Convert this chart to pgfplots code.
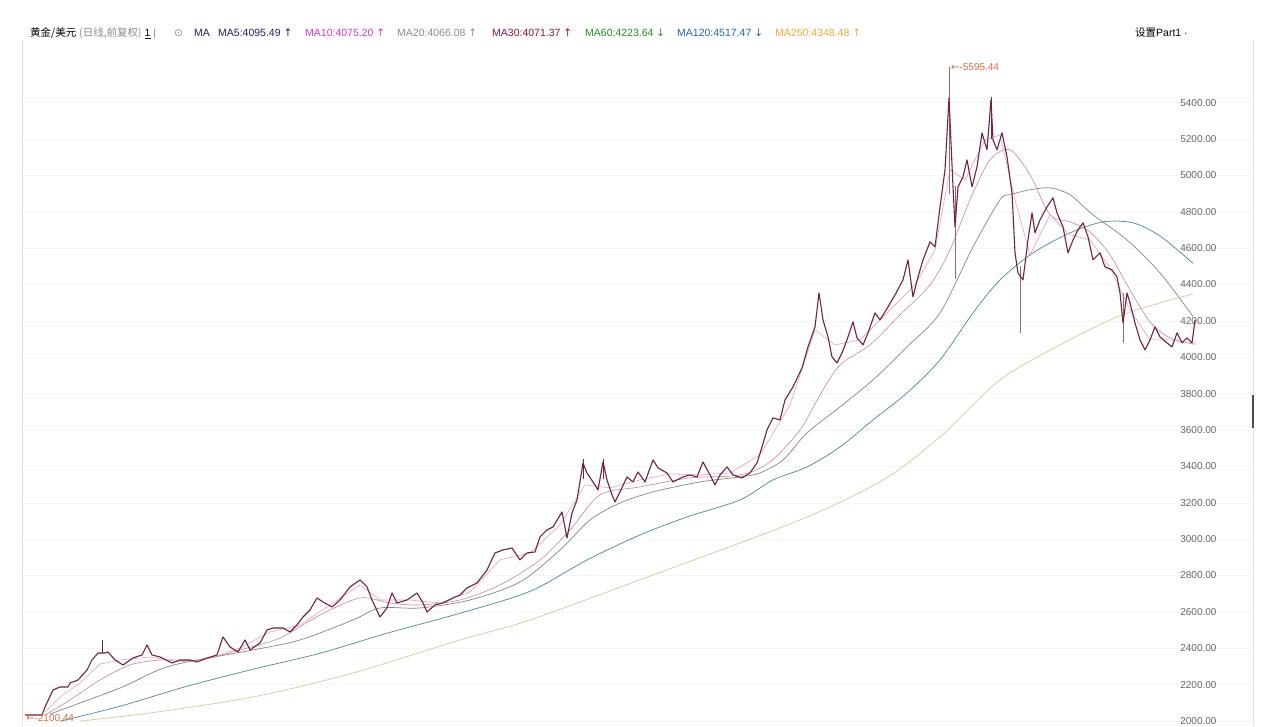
\documentclass[border=0pt]{standalone}
\usepackage{pgfplots}
\pgfplotsset{compat=1.18}
\usepackage{fontspec}
\setmainfont{Liberation Sans}
\newfontfamily\cjk{Noto Sans CJK SC}
\newfontfamily\dejavu{DejaVu Sans}
\definecolor{cNavy}{RGB}{30,30,110}
\definecolor{cMag}{RGB}{210,60,200}
\definecolor{cGrey}{RGB}{140,140,140}
\definecolor{cDred}{RGB}{140,20,50}
\definecolor{cGreen}{RGB}{40,140,40}
\definecolor{cBlue}{RGB}{40,100,180}
\definecolor{cOrange}{RGB}{235,170,60}
\definecolor{cPrice}{RGB}{115,35,55}
\definecolor{cMAten}{RGB}{228,160,215}
\definecolor{cMAthirty}{RGB}{205,135,150}
\definecolor{cMAsixty}{RGB}{125,140,125}
\definecolor{cMAonetwenty}{RGB}{75,135,155}
\definecolor{cMAtwofifty}{RGB}{222,205,160}
\definecolor{cPeak}{RGB}{225,110,70}
\begin{document}
\begin{tikzpicture}
\path[fill=white] (0,0) rectangle (1280pt,726pt);
\path[use as bounding box] (0,0) rectangle (1280pt,726pt);
\begin{axis}[
  at={(22pt,0pt)}, anchor=south west,
  scale only axis, width=1231pt, height=686pt,
  xmin=22, xmax=1253, ymin=1972.5, ymax=5744.6,
  axis line style={draw=none},
  xtick=\empty,
  ytick={2000,2200,...,5400},
  yticklabel pos=right,
  major tick length=0pt,
  ymajorgrids, grid style={black!4},
  yticklabel style={anchor=east, xshift=-33pt, font=\fontsize{10}{10}\selectfont, text=black!60},
  /pgf/number format/fixed, /pgf/number format/fixed zerofill,
  /pgf/number format/precision=2, /pgf/number format/1000 sep={},
  /pgf/number format/assume math mode=true,
]
% MA250
\addplot[color=cMAtwofifty, line width=0.8pt, smooth] coordinates {
(80,2000) (150,2044) (253,2132) (353,2264) (460,2445.5) (530,2555.5) (653,2803) (800,3105.5) (883,3325.5) (940,3562) (1000,3875.5) (1060,4068) (1117,4222) (1160,4299) (1193,4348)
};
% MA120
\addplot[color=cMAonetwenty, line width=0.7pt, smooth] coordinates {
(60,1999) (120,2081) (187,2191) (253,2284.5) (320,2372.5) (387,2482.5) (460,2592.5) (530,2713) (587,2885.5) (640,3023) (687,3122) (740,3215.5) (773,3325.5) (807,3397) (840,3507) (873,3655.5) (907,3804) (940,3985.5) (973,4244) (1000,4425.5) (1033,4574) (1070,4684) (1103,4744.5) (1133,4739) (1160,4667) (1193,4517)
};
% MA60
\addplot[color=cMAsixty, line width=0.7pt, smooth] coordinates {
(50,2038.5) (120,2181.5) (170,2302.5) (253,2390.5) (300,2445.5) (353,2555.5) (380,2621.5) (420,2621.5) (470,2665.5) (520,2764.5) (560,2940.5) (590,3105.5) (620,3199) (653,3259.5) (700,3314.5) (740,3342) (760,3364) (783,3435.5) (807,3584) (840,3727) (873,3875.5) (907,4057) (940,4244) (973,4607) (1000,4866) (1010,4893.5) (1030,4921) (1050,4931.5) (1070,4893.5) (1093,4783) (1127,4645.5) (1160,4464) (1193,4224)
};
% MA30
\addplot[color=cMAthirty, line width=0.6pt, smooth] coordinates {
(45,2033) (70,2115.5) (100,2225.5) (130,2308) (160,2335.5) (200,2335.5) (240,2390.5) (280,2456.5) (320,2583) (360,2676.5) (390,2649) (420,2638) (460,2665.5) (500,2748) (540,2885.5) (570,3050.5) (600,3243) (640,3287) (690,3336.5) (740,3353) (770,3424.5) (800,3600.5) (820,3793) (840,3958) (870,4068) (900,4233) (930,4398) (950,4590.5) (970,4866) (990,5085.5) (1010,5140.5) (1030,5003) (1050,4783) (1070,4744.5) (1090,4689.5) (1110,4563) (1130,4370.5) (1150,4194.5) (1170,4106.5) (1195,4071)
};
% MA10
\addplot[color=cMAten, line width=0.6pt] coordinates {
(45,2049.5) (60,2132) (80,2209) (100,2313.5) (120,2335.5) (150,2352) (180,2324.5) (210,2346.5) (240,2401.5) (270,2489.5) (300,2528) (330,2638) (360,2748) (380,2665.5) (410,2665.5) (440,2649) (470,2709.5) (500,2885.5) (530,2924) (560,3078) (585,3298) (610,3281.5) (640,3325.5) (670,3358.5) (700,3353) (730,3364) (760,3463) (790,3738) (815,4150.5) (835,4068) (860,4095.5) (890,4260.5) (915,4398) (935,4590.5) (950,5030.5) (965,4975.5) (985,5195.5) (1000,5223) (1015,4866) (1030,4563) (1050,4783) (1070,4673) (1090,4645.5) (1110,4491.5) (1130,4260.5) (1150,4095.5) (1170,4095.5) (1195,4075)
};
% wicks
\addplot[cPrice, line width=0.6pt] coordinates {(102,2374) (102,2445)};
\addplot[cPrice, line width=0.6pt] coordinates {(583,3330) (583,3440)};
\addplot[cPrice, line width=0.6pt] coordinates {(603,3330) (603,3440)};
\addplot[cPrice!70, line width=0.5pt] coordinates {(949,4900) (949,5595.44)};
\addplot[cPrice!70, line width=0.5pt] coordinates {(955,4430) (955,4940)};
\addplot[cPrice, line width=0.6pt] coordinates {(991,5200) (991,5430)};
\addplot[cPrice!70, line width=0.5pt] coordinates {(1020,4134) (1020,4500)};
\addplot[cPrice!70, line width=0.5pt] coordinates {(1123,4079) (1123,4354)};
% price (close)
\addplot[color=cPrice, line width=1.1pt, line join=round] coordinates {
(25,2033) (42,2033) (45,2077) (53,2170.5) (60,2187) (68,2187) (70,2209) (78,2225.5) (87,2280.5) (92,2335.5) (98,2374) (105,2374) (108,2379.5) (115,2335.5) (123,2308) (133,2346.5) (142,2363) (147,2418) (152,2363) (160,2352) (172,2319) (180,2335.5) (190,2335.5) (197,2324.5) (207,2346.5) (217,2363) (223,2462) (230,2407) (238,2379.5) (245,2445.5) (250,2390.5) (260,2429) (267,2500.5) (273,2511.5) (283,2511.5) (290,2489.5) (297,2528) (303,2572) (310,2610.5) (317,2676.5) (323,2654.5) (332,2627) (340,2665.5) (350,2737) (360,2775.5) (367,2737) (372,2665.5) (380,2572) (387,2621.5) (392,2704) (397,2649) (407,2665.5) (417,2704) (423,2649) (427,2599.5) (435,2638) (443,2649) (453,2676.5) (460,2693)
(467,2731.5) (477,2759) (487,2830.5) (495,2924) (503,2940.5) (512,2951.5) (520,2885.5) (527,2924) (535,2929.5) (540,3012) (547,3050.5) (553,3067) (562,3149.5) (567,3006.5) (572,3144) (577,3215.5) (583,3419) (587,3364) (593,3314.5) (598,3270.5) (603,3424.5) (607,3325.5) (612,3243) (615,3204.5) (620,3259.5) (627,3342) (633,3314.5) (638,3369.5) (645,3314.5) (653,3435.5) (658,3391.5) (667,3364) (673,3314.5) (683,3342) (690,3353) (697,3342) (703,3424.5) (710,3353) (715,3298) (720,3353) (727,3397) (733,3353) (742,3336.5) (750,3364) (757,3419)
(762,3507) (767,3600.5) (773,3666.5) (780,3655.5) (785,3765.5) (793,3837) (802,3941.5) (808,4057) (815,4167) (819,4354) (823,4205.5) (828,4112) (832,4002) (837,3969) (842,4024) (847,4095.5) (853,4194.5) (857,4106.5) (863,4068) (868,4134) (875,4244) (880,4205.5) (888,4277) (895,4343) (903,4425.5) (908,4535.5) (913,4332) (918,4442) (923,4535.5) (930,4634.5) (935,4607) (940,4827) (945,5030.5) (949,5426.5) (951,5179) (953,4937) (955,4717) (958,4937) (963,4992) (967,5085.5) (972,4937) (977,5047) (982,5234) (987,5140.5) (991,5415.5) (993,5195.5) (997,5140.5) (1002,5234) (1007,5102)
(1012,4904) (1015,4574) (1018,4464) (1023,4425.5) (1028,4645.5) (1032,4794) (1035,4684) (1040,4755.5) (1047,4827) (1053,4876.5) (1057,4794) (1063,4717) (1068,4574) (1073,4645.5) (1078,4700.5) (1083,4739) (1088,4662) (1093,4535.5) (1100,4574) (1105,4497) (1112,4480.5) (1117,4442) (1120,4354) (1123,4189) (1127,4354) (1130,4299) (1135,4189) (1140,4095.5) (1145,4040.5) (1150,4095.5) (1155,4167) (1160,4112) (1167,4079) (1172,4057) (1177,4134) (1182,4079) (1187,4106.5) (1192,4079) (1195,4205.5)
};
\node[anchor=west, inner sep=0pt, font=\fontsize{10}{10}\selectfont, text=cPeak] at (axis cs:951,5595.44) {{\dejavu ←}-5595.44};
\node[anchor=west, inner sep=0pt, font=\fontsize{10}{10}\selectfont, text=cPeak!70!brown] at (axis cs:26,2017) {{\dejavu ←}-2100.44};
\end{axis}
% borders
\draw[black!12] (22pt,0) -- (22pt,686pt);
\draw[black!12] (1253pt,0) -- (1253pt,686pt);
\draw[black!70, line width=1.5pt] (1253pt,298pt) -- (1253pt,331pt);
% header
\begin{scope}[every node/.style={anchor=base west, inner sep=0pt, font=\fontsize{10.5}{10.5}\selectfont}]
\node at (30pt,689pt) {{\cjk 黄金/美元} {\color{cGrey}\cjk (日线,前复权)} \underline{1} {\color{cGrey}|}};
\node at (174pt,689pt) {{\dejavu\color{cGrey}⊙}};
\node at (194pt,689pt) {\color{cNavy}MA};
\node at (218pt,689pt) {\color{cNavy}MA5:4095.49 {\dejavu ↑}};
\node at (305pt,689pt) {\color{cMag}MA10:4075.20 {\dejavu ↑}};
\node at (397pt,689pt) {\color{cGrey}MA20:4066.08 {\dejavu ↑}};
\node at (492pt,689pt) {\color{cDred}MA30:4071.37 {\dejavu ↑}};
\node at (585pt,689pt) {\color{cGreen}MA60:4223.64 {\dejavu ↓}};
\node at (677pt,689pt) {\color{cBlue}MA120:4517.47 {\dejavu ↓}};
\node at (775pt,689pt) {\color{cOrange}MA250:4348.48 {\dejavu ↑}};
\node at (1135pt,689pt) {{\cjk 设置}Part1 ·};
\end{scope}
\end{tikzpicture}
\end{document}
